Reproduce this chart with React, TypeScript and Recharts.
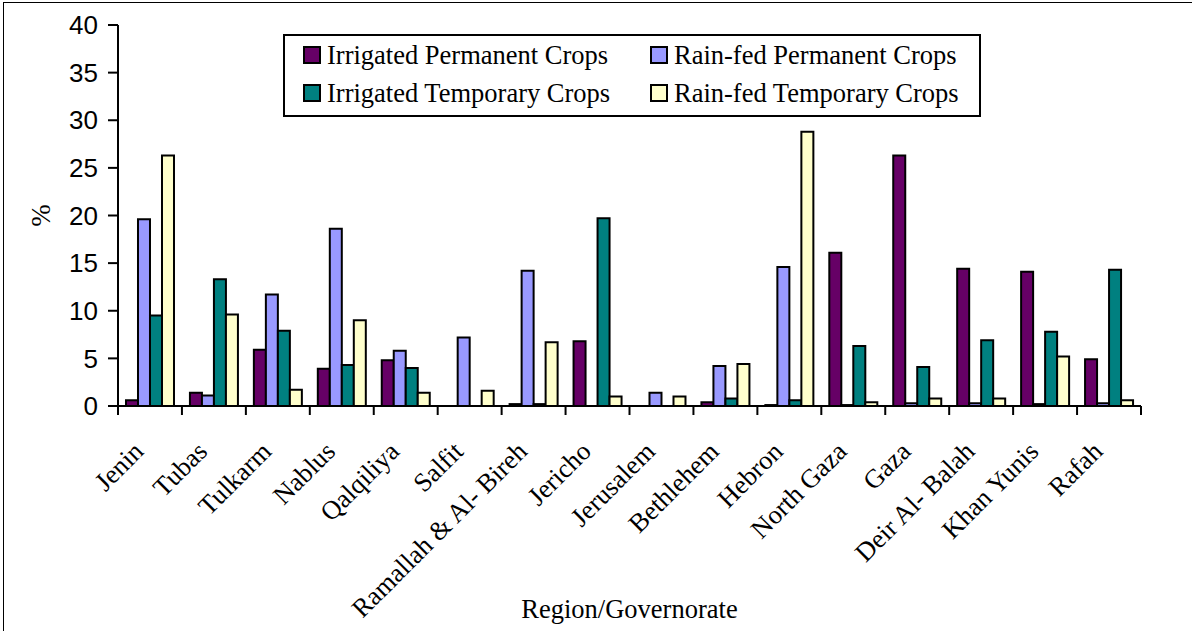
import { BarChart, Bar, XAxis, YAxis, Legend, Label } from "recharts";

const regions = [
  "Jenin",
  "Tubas",
  "Tulkarm",
  "Nablus",
  "Qalqiliya",
  "Salfit",
  "Ramallah & Al- Bireh",
  "Jericho",
  "Jerusalem",
  "Bethlehem",
  "Hebron",
  "North Gaza",
  "Gaza",
  "Deir Al- Balah",
  "Khan Yunis",
  "Rafah",
];

const irrigatedPermanent = [0.6, 1.4, 5.9, 3.9, 4.8, 0, 0.2, 6.8, 0, 0.4, 0.1, 16.1, 26.3, 14.4, 14.1, 4.9];
const rainfedPermanent = [19.6, 1.1, 11.7, 18.6, 5.8, 7.2, 14.2, 0, 1.4, 4.2, 14.6, 0.1, 0.3, 0.3, 0.2, 0.3];
const irrigatedTemporary = [9.5, 13.3, 7.9, 4.3, 4.0, 0, 0.2, 19.7, 0, 0.8, 0.6, 6.3, 4.1, 6.9, 7.8, 14.3];
const rainfedTemporary = [26.3, 9.6, 1.7, 9.0, 1.4, 1.6, 6.7, 1.0, 1.0, 4.4, 28.8, 0.4, 0.8, 0.8, 5.2, 0.6];

const yTicks = [0, 5, 10, 15, 20, 25, 30, 35, 40];

const series = [
  { key: "irrPerm", name: "Irrigated Permanent Crops", color: "#660066" },
  { key: "rainPerm", name: "Rain-fed Permanent Crops", color: "#9999FF" },
  { key: "irrTemp", name: "Irrigated Temporary Crops", color: "#008080" },
  { key: "rainTemp", name: "Rain-fed Temporary Crops", color: "#FFFFCC" },
];

const data = regions.map((region, i) => ({
  region,
  irrPerm: irrigatedPermanent[i],
  rainPerm: rainfedPermanent[i],
  irrTemp: irrigatedTemporary[i],
  rainTemp: rainfedTemporary[i],
}));

const W = 1192;
const H = 631;
const plotLeft = 118;
const plotRight = 1141;
const plotTop = 25;
const plotBottom = 406;
const band = (plotRight - plotLeft) / regions.length;

const serif = "'Liberation Serif', 'Times New Roman', serif";
const sans = "'Liberation Sans', Arial, sans-serif";

// category ticks sit on the band edges, labels are rotated under the centre
const RegionTick = (props: any) => {
  const { x, y, payload, index } = props;
  return (
    <g>
      {index === 0 && (
        <line x1={x - band / 2} x2={x - band / 2} y1={y} y2={y + 9} stroke="#000" strokeWidth={2} />
      )}
      <line x1={x + band / 2} x2={x + band / 2} y1={y} y2={y + 9} stroke="#000" strokeWidth={2} />
      <text
        transform={`translate(${x - 5},${y + 47}) rotate(-45)`}
        textAnchor="end"
        fontFamily={serif}
        fontSize={26.5}
        fill="#000"
      >
        {payload.value}
      </text>
    </g>
  );
};

const LegendBox = () => (
  <div
    style={{
      boxSizing: "border-box",
      width: 698,
      height: 83,
      border: "2px solid #000",
      background: "#fff",
      display: "grid",
      gridTemplateColumns: "347px auto",
      gridAutoRows: "38px",
      paddingLeft: 18,
      paddingTop: 0,
      fontFamily: serif,
      fontSize: 26.5,
      color: "#000",
    }}
  >
    {series.map((s) => (
      <div key={s.key} style={{ display: "flex", alignItems: "center" }}>
        <span
          style={{
            display: "inline-block",
            boxSizing: "border-box",
            width: 18,
            height: 18,
            background: s.color,
            border: "2px solid #000",
            marginRight: 6,
          }}
        />
        <span style={{ whiteSpace: "nowrap", lineHeight: "30px" }}>{s.name}</span>
      </div>
    ))}
  </div>
);

export default function App() {
  return (
    <div style={{ position: "absolute", left: 0, top: 0, width: W, height: H, background: "#fff" }}>
      <div
        style={{
          position: "absolute",
          left: 3,
          top: 2,
          right: 0,
          bottom: 0,
          borderLeft: "1px solid #000",
          borderTop: "1px solid #000",
        }}
      />
      <div style={{ position: "absolute", left: 0, top: 0 }}>
        <BarChart
          width={W}
          height={H}
          data={data}
          margin={{ top: plotTop, right: W - plotRight, left: 0, bottom: 0 }}
          barCategoryGap="12.5%"
          barGap={0}
        >
          <XAxis
            dataKey="region"
            height={H - plotBottom}
            interval={0}
            tickSize={0}
            tickMargin={0}
            tickLine={false}
            axisLine={{ stroke: "#000", strokeWidth: 2 }}
            tick={<RegionTick />}
          >
            <Label
              value="Region/Governorate"
              position="insideBottom"
              offset={13}
              style={{ fontFamily: serif, fontSize: 26.5, fill: "#000" }}
            />
          </XAxis>
          <XAxis
            xAxisId="top"
            dataKey="region"
            orientation="top"
            height={0}
            tick={false}
            tickLine={false}
            axisLine={{ stroke: "#000", strokeWidth: 2 }}
          />
          <YAxis
            width={plotLeft}
            domain={[0, 40]}
            ticks={yTicks}
            interval={0}
            tickSize={10}
            tickMargin={10}
            tickLine={{ stroke: "#000", strokeWidth: 2 }}
            axisLine={{ stroke: "#000", strokeWidth: 2 }}
            tick={{ fill: "#000", fontSize: 26, fontFamily: sans }}
          >
            <Label
              value="%"
              angle={-90}
              position="insideLeft"
              offset={40}
              style={{ fontFamily: serif, fontSize: 27, fill: "#000", textAnchor: "middle" }}
            />
          </YAxis>
          <YAxis
            yAxisId="right"
            orientation="right"
            width={0}
            domain={[0, 40]}
            tick={false}
            tickLine={false}
            axisLine={{ stroke: "#000", strokeWidth: 2 }}
          />
          <Legend
            layout="horizontal"
            verticalAlign="middle"
            align="center"
            wrapperStyle={{ left: 283, top: 34, width: 698, height: 83 }}
            content={<LegendBox />}
          />
          {series.map((s) => (
            <Bar
              key={s.key}
              dataKey={s.key}
              name={s.name}
              fill={s.color}
              stroke="#000"
              strokeWidth={2}
              isAnimationActive={false}
            />
          ))}
        </BarChart>
      </div>
    </div>
  );
}
